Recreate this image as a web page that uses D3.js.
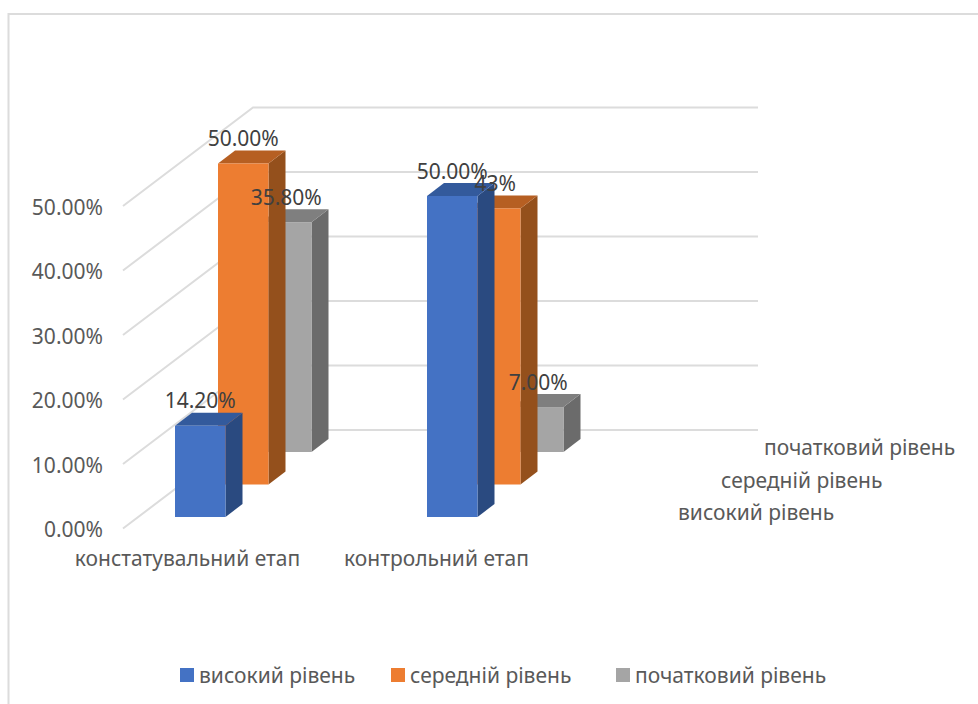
<!DOCTYPE html>
<html>
<head>
<meta charset="utf-8">
<script src="https://cdn.jsdelivr.net/npm/d3@7"></script>
<style>
  html, body { margin: 0; background: #fff; }
  text { font-family: "Noto Sans", sans-serif; }
</style>
</head>
<body>
<div id="chart"></div>
<script>
const categories = ["констатувальний етап", "контрольний етап"];
const seriesNames = ["високий рівень", "середній рівень", "початковий рівень"];
const highValues = [0.142, 0.5];
const midValues = [0.5, 0.43];
const lowValues = [0.358, 0.07];
const highLabels = ["14.20%", "50.00%"];
const midLabels = ["50.00%", "43%"];
const lowLabels = ["35.80%", "7.00%"];
const yTicks = [0, 0.1, 0.2, 0.3, 0.4, 0.5];

const width = 978, height = 704;
const barW = 50.5;
const capDx = 17, capDy = -13;
const fontSize = 21;

const svg = d3.select("#chart").append("svg")
  .attr("width", width)
  .attr("height", height);

// chart frame, only top and left edges are visible
svg.append("path")
  .attr("d", d3.line()([[978, 14], [8.5, 14], [8.5, 704]]))
  .attr("fill", "none")
  .attr("stroke", "#dcdcdc")
  .attr("stroke-width", 2);

// front-left wall edge carries the value axis
const y = d3.scaleLinear().domain([0, 0.5]).range([528.5, 206]);
const barH = d3.scaleLinear().domain([0, 0.5]).range([0, 321]);
const x = d3.scalePoint().domain(categories).range([175, 427]);
const xLabel = d3.scalePoint().domain(categories).range([187, 436]);

// oblique depth: each series sits further back and to the right
const depthX = d3.scalePoint().domain(seriesNames).range([0, 86]);
const depthY = d3.scalePoint().domain(seriesNames).range([0, -65]);
const wallDx = 130, wallDy = -98.5;
const wallRight = 758;

const grid = svg.append("g")
  .attr("fill", "none")
  .attr("stroke", "#dcdcdc")
  .attr("stroke-width", 2);

yTicks.forEach(t => {
  grid.append("path").attr("d", d3.line()([
    [123, y(t)],
    [123 + wallDx, y(t) + wallDy],
    [wallRight, y(t) + wallDy]
  ]));
});

const yAxis = d3.axisLeft(y)
  .tickValues(yTicks)
  .tickSize(0)
  .tickFormat(d3.format(".2%"));

svg.append("g")
  .attr("transform", "translate(106,1.5)")
  .call(yAxis)
  .call(g => g.select(".domain").remove())
  .selectAll("text")
  .attr("font-size", fontSize)
  .attr("fill", "#595959");

const xAxis = d3.axisBottom(xLabel)
  .tickSize(0)
  .tickPadding(0);

svg.append("g")
  .attr("transform", "translate(0,551)")
  .call(xAxis)
  .call(g => g.select(".domain").remove())
  .selectAll("text")
  .attr("font-size", fontSize)
  .attr("fill", "#595959");

// series names along the depth axis
svg.append("g").selectAll("text")
  .data(seriesNames)
  .join("text")
  .attr("x", d => 678 + depthX(d))
  .attr("y", d => 520 + depthY(d))
  .attr("font-size", fontSize)
  .attr("fill", "#595959")
  .text(d => d);

const series = [
  { name: seriesNames[0], values: highValues, labels: highLabels, front: "#4472c4", top: "#335a9c", side: "#2a4a80" },
  { name: seriesNames[1], values: midValues, labels: midLabels, front: "#ed7d31", top: "#b65f22", side: "#94501c" },
  { name: seriesNames[2], values: lowValues, labels: lowLabels, front: "#a5a5a5", top: "#7f7f7f", side: "#6b6b6b" }
];

const bars = svg.append("g");

// back rows first so the nearer boxes cover them
series.slice().reverse().forEach(s => {
  categories.forEach((c, i) => {
    const x0 = x(c) + depthX(s.name);
    const base = 517 + depthY(s.name);
    const top = base - barH(s.values[i]);
    const g = bars.append("g");

    g.append("path")
      .attr("fill", s.side)
      .attr("d", d3.line()([
        [x0 + barW, base], [x0 + barW + capDx, base + capDy],
        [x0 + barW + capDx, top + capDy], [x0 + barW, top]
      ]) + "Z");
    g.append("path")
      .attr("fill", s.top)
      .attr("d", d3.line()([
        [x0, top], [x0 + capDx, top + capDy],
        [x0 + barW + capDx, top + capDy], [x0 + barW, top]
      ]) + "Z");
    g.append("rect")
      .attr("x", x0)
      .attr("y", top)
      .attr("width", barW)
      .attr("height", barH(s.values[i]))
      .attr("fill", s.front);
  });
});

// value labels go over all the boxes
const valueLabels = svg.append("g")
  .attr("text-anchor", "middle")
  .attr("font-size", fontSize)
  .attr("fill", "#404040");

series.forEach(s => {
  categories.forEach((c, i) => {
    const base = 517 + depthY(s.name);
    valueLabels.append("text")
      .attr("x", x(c) + depthX(s.name) + barW / 2)
      .attr("y", base - barH(s.values[i]) - 17.5)
      .text(s.labels[i]);
  });
});

const legendX = [180, 391, 616];
const legend = svg.append("g");
series.forEach((s, i) => {
  legend.append("rect")
    .attr("x", legendX[i])
    .attr("y", 668)
    .attr("width", 14)
    .attr("height", 14)
    .attr("fill", s.front);
  legend.append("text")
    .attr("x", legendX[i] + 19)
    .attr("y", 683)
    .attr("font-size", fontSize)
    .attr("fill", "#595959")
    .text(s.name);
});
</script>
</body>
</html>
